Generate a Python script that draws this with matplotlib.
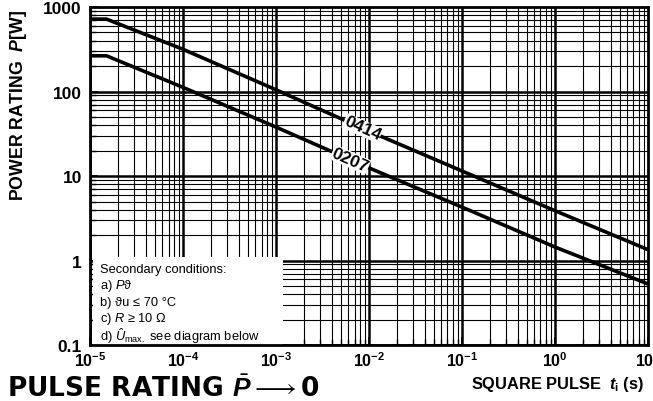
import numpy as np
import matplotlib.pyplot as plt
from matplotlib.patches import Rectangle

plt.rcParams['font.family'] = ['Liberation Sans', 'DejaVu Sans']
plt.rcParams['mathtext.fontset'] = 'custom'
plt.rcParams['mathtext.rm'] = 'Liberation Sans'
plt.rcParams['mathtext.it'] = 'Liberation Sans:bold:italic'
plt.rcParams['mathtext.bf'] = 'Liberation Sans:bold'
plt.rcParams['mathtext.sf'] = 'Liberation Sans:italic'

# pulse duration (s) and power rating (W)
t_pulse = [1e-5, 1.5e-5, 1e-4, 1e-3, 1e-2, 1e-1, 1, 10]
p_0414 = [720, 720, 316, 105, 34, 11.5, 3.9, 1.35]
p_0207 = [265, 265, 112, 38, 12.5, 4.3, 1.45, 0.53]

x_ticks = [1e-5, 1e-4, 1e-3, 1e-2, 1e-1, 1, 10]
x_labels = [r'$\mathbf{10^{-5}}$', r'$\mathbf{10^{-4}}$', r'$\mathbf{10^{-3}}$',
            r'$\mathbf{10^{-2}}$', r'$\mathbf{10^{-1}}$', r'$\mathbf{10^{0}}$',
            r'$\mathbf{10^{1}}$']
y_ticks = [0.1, 1, 10, 100, 1000]
y_labels = ['0.1', '1', '10', '100', '1000']

notes = ['Secondary conditions:',
         r'a) $\mathsf{P}$ϑ',
         'b) ϑu ≤ 70 °C',
         r'c) $\mathsf{R}$ ≥ 10 Ω',
         r'd) $\mathsf{\hat{U}}_{\mathrm{max.}}$ see diagram below']

fig = plt.figure(figsize=(6.53, 4.02), dpi=100)
ax = fig.add_axes([0.138, 0.139, 0.854, 0.841])
ax.set_xscale('log')
ax.set_yscale('log')
ax.set_xlim(1e-5, 10)
ax.set_ylim(0.1, 1000)

# dense log grid, drawn by hand so the note box can hide it
for d in range(-5, 1):
    for k in range(1, 10):
        ax.axvline(k * 10.0 ** d, color='black', lw=1.8 if k == 1 else 0.8, zorder=1)
for d in range(-1, 3):
    for k in range(1, 10):
        ax.axhline(k * 10.0 ** d, color='black', lw=1.8 if k == 1 else 0.8, zorder=1)

ax.plot(t_pulse, p_0414, color='black', lw=2.6, zorder=3, solid_capstyle='butt')
ax.plot(t_pulse, p_0207, color='black', lw=2.6, zorder=3, solid_capstyle='butt')

lt = np.log10(t_pulse)
for name, vals, xpos in [('0414', p_0414, 8.5e-3), ('0207', p_0207, 6.3e-3)]:
    ypos = 10 ** np.interp(np.log10(xpos), lt, np.log10(vals))
    ax.text(xpos, ypos, name, rotation=-24, ha='center', va='center',
            fontsize=12.5, fontweight='bold', zorder=4,
            bbox=dict(facecolor='white', edgecolor='none', pad=0.3))

ax.add_patch(Rectangle((0.005, 0.0), 0.341, 0.262, transform=ax.transAxes,
                       facecolor='white', edgecolor='none', zorder=2))
for i, line in enumerate(notes):
    ax.text(0.018, 0.226 - i * 0.049, line, transform=ax.transAxes,
            fontsize=9.3, va='center', ha='left', zorder=4)

ax.set_xticks(x_ticks)
ax.set_xticklabels(x_labels)
ax.set_yticks(y_ticks)
ax.set_yticklabels(y_labels)
ax.tick_params(which='both', direction='in', top=False, right=False)
ax.tick_params(which='major', length=6, width=1.2)
ax.tick_params(axis='x', which='major', labelsize=11.5, pad=4)
ax.tick_params(axis='y', which='major', labelsize=12.5, pad=6)
ax.tick_params(which='minor', length=4, width=1)
ax.yaxis.set_minor_formatter(plt.NullFormatter())
ax.xaxis.set_minor_formatter(plt.NullFormatter())
for lbl in ax.get_yticklabels():
    lbl.set_fontweight('bold')
for s in ax.spines.values():
    s.set_linewidth(2)

fig.text(0.028, 0.977, r'POWER RATING  $P$[W]', rotation=90, ha='center', va='top',
         fontsize=12.8, fontweight='bold')
fig.text(0.722, 0.032, r'SQUARE PULSE  $t_{\mathbf{i}}$ (s)', ha='left', va='baseline',
         fontsize=11.8, fontweight='bold')
fig.text(0.01, 0.012, r'PULSE RATING $\bar{P}\longrightarrow$0', ha='left', va='baseline',
         fontsize=19, fontweight='bold', family=['DejaVu Sans'])

fig.savefig('out.png', dpi=100)
